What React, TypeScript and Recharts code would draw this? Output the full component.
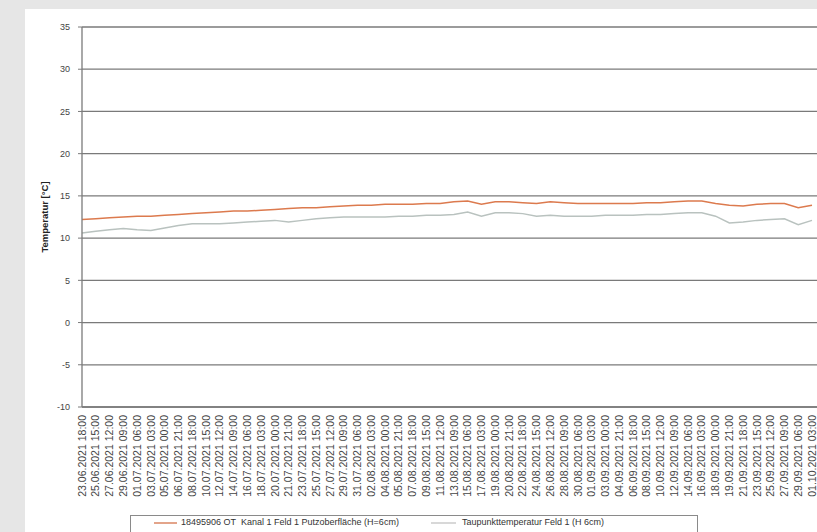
import React from 'react';
import { LineChart, Line, XAxis, YAxis, CartesianGrid, Label } from 'recharts';

const timeLabels = [
    '23.06.2021 18:00', '25.06.2021 15:00', '27.06.2021 12:00', '29.06.2021 09:00',
    '01.07.2021 06:00', '03.07.2021 03:00', '05.07.2021 00:00', '06.07.2021 21:00',
    '08.07.2021 18:00', '10.07.2021 15:00', '12.07.2021 12:00', '14.07.2021 09:00',
    '16.07.2021 06:00', '18.07.2021 03:00', '20.07.2021 00:00', '21.07.2021 21:00',
    '23.07.2021 18:00', '25.07.2021 15:00', '27.07.2021 12:00', '29.07.2021 09:00',
    '31.07.2021 06:00', '02.08.2021 03:00', '04.08.2021 00:00', '05.08.2021 21:00',
    '07.08.2021 18:00', '09.08.2021 15:00', '11.08.2021 12:00', '13.08.2021 09:00',
    '15.08.2021 06:00', '17.08.2021 03:00', '19.08.2021 00:00', '20.08.2021 21:00',
    '22.08.2021 18:00', '24.08.2021 15:00', '26.08.2021 12:00', '28.08.2021 09:00',
    '30.08.2021 06:00', '01.09.2021 03:00', '03.09.2021 00:00', '04.09.2021 21:00',
    '06.09.2021 18:00', '08.09.2021 15:00', '10.09.2021 12:00', '12.09.2021 09:00',
    '14.09.2021 06:00', '16.09.2021 03:00', '18.09.2021 00:00', '19.09.2021 21:00',
    '21.09.2021 18:00', '23.09.2021 15:00', '25.09.2021 12:00', '27.09.2021 09:00',
    '29.09.2021 06:00', '01.10.2021 03:00',
];

// Kanal 1 Feld 1 Putzoberfläche
const surfaceTemp = [
    12.2, 12.3, 12.4, 12.5, 12.6, 12.6, 12.7, 12.8, 12.9, 13.0,
    13.1, 13.2, 13.2, 13.3, 13.4, 13.5, 13.6, 13.6, 13.7, 13.8,
    13.9, 13.9, 14.0, 14.0, 14.0, 14.1, 14.1, 14.3, 14.4, 14.0,
    14.3, 14.3, 14.2, 14.1, 14.3, 14.2, 14.1, 14.1, 14.1, 14.1,
    14.1, 14.2, 14.2, 14.3, 14.4, 14.4, 14.1, 13.9, 13.8, 14.0,
    14.1, 14.1, 13.6, 13.9,
];

// Taupunkttemperatur Feld 1
const dewPoint = [
    10.6, 10.8, 11.0, 11.15, 11.0, 10.9, 11.2, 11.5, 11.7, 11.7,
    11.7, 11.8, 11.9, 12.0, 12.1, 11.9, 12.1, 12.3, 12.4, 12.5,
    12.5, 12.5, 12.5, 12.6, 12.6, 12.7, 12.7, 12.8, 13.1, 12.6,
    13.0, 13.0, 12.9, 12.6, 12.7, 12.6, 12.6, 12.6, 12.7, 12.7,
    12.7, 12.8, 12.8, 12.9, 13.0, 13.0, 12.6, 11.8, 11.9, 12.1,
    12.2, 12.3, 11.6, 12.1,
];

const yTicks = [-10, -5, 0, 5, 10, 15, 20, 25, 30, 35];

const data = timeLabels.map((t, i) => ({
    time: t,
    surface: surfaceTemp[i],
    dew: dewPoint[i],
}));

const FONT = '"Liberation Sans", Arial, sans-serif';

function TimeTick(props: any) {
    const { x, y, payload } = props;
    return (
        <text
            x={x}
            y={y}
            transform={`rotate(-90, ${x}, ${y})`}
            textAnchor="end"
            dy="0.35em"
            fontSize={10.5}
            fontFamily={FONT}
            fill="#444"
        >
            {payload.value}
        </text>
    );
}

export default function App() {
    return (
        <div
            style={{
                position: 'fixed',
                left: 0,
                top: 0,
                width: 817,
                height: 532,
                background: '#e6e6e6',
                overflow: 'hidden',
            }}
        >
            <div
                style={{
                    position: 'absolute',
                    left: 25,
                    top: 9,
                    width: 820,
                    height: 540,
                    background: '#fff',
                }}
            />
            <div style={{ position: 'absolute', left: 0, top: 0 }}>
                <LineChart
                    width={840}
                    height={532}
                    data={data}
                    margin={{ top: 27, right: 10, left: 42, bottom: 25 }}
                >
                    <CartesianGrid
                        vertical={false}
                        stroke="#7a7a7a"
                        strokeWidth={1.3}
                        strokeDasharray=""
                    />
                    <XAxis
                        dataKey="time"
                        interval={0}
                        height={100}
                        padding={{ left: 0, right: 18 }}
                        tick={<TimeTick />}
                        tickLine={false}
                        axisLine={{ stroke: '#7a7a7a', strokeWidth: 1.3 }}
                    />
                    <YAxis
                        domain={[-10, 35]}
                        ticks={yTicks}
                        interval={0}
                        width={40}
                        tickSize={4}
                        tickLine={{ stroke: '#7a7a7a' }}
                        axisLine={{ stroke: '#7a7a7a', strokeWidth: 1.3 }}
                        tick={{ fontSize: 9, fontFamily: FONT, fill: '#444', dx: -6 }}
                    >
                        <Label
                            content={({ viewBox }: any) => {
                                const cx = 45;
                                const cy = viewBox.y + viewBox.height / 2;
                                return (
                                    <text
                                        x={cx}
                                        y={cy}
                                        transform={`rotate(-90, ${cx}, ${cy})`}
                                        textAnchor="middle"
                                        dy="0.35em"
                                        fontSize={9.5}
                                        fontWeight="bold"
                                        fontFamily={FONT}
                                        fill="#222"
                                    >
                                        Temperatur [°C]
                                    </text>
                                );
                            }}
                        />
                    </YAxis>
                    <Line
                        type="linear"
                        dataKey="dew"
                        stroke="#b9c2bf"
                        strokeWidth={1.5}
                        dot={false}
                        isAnimationActive={false}
                    />
                    <Line
                        type="linear"
                        dataKey="surface"
                        stroke="#dc7a4e"
                        strokeWidth={1.5}
                        dot={false}
                        isAnimationActive={false}
                    />
                </LineChart>
            </div>
            <div
                style={{
                    position: 'absolute',
                    left: 130,
                    top: 515,
                    width: 566,
                    height: 24,
                    border: '1px solid #8a8a8a',
                    background: '#fff',
                    fontFamily: FONT,
                    fontSize: 9,
                    color: '#333',
                }}
            >
                <div style={{ position: 'absolute', left: 23, top: 6, width: 23, height: 2, background: '#e3a48a' }} />
                <span style={{ position: 'absolute', left: 50, top: 1, whiteSpace: 'nowrap' }}>
                    18495906 OT&nbsp; Kanal 1 Feld 1 Putzoberfläche (H=6cm)
                </span>
                <div style={{ position: 'absolute', left: 300, top: 6, width: 25, height: 2, background: '#d8d8d8' }} />
                <span style={{ position: 'absolute', left: 331, top: 1, whiteSpace: 'nowrap' }}>
                    Taupunkttemperatur Feld 1 (H 6cm)
                </span>
            </div>
        </div>
    );
}
